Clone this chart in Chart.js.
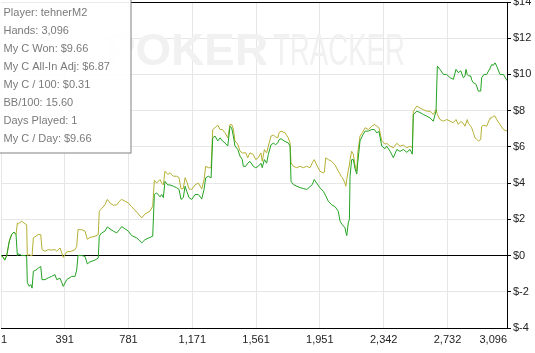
<!DOCTYPE html>
<html>
<head>
<meta charset="utf-8">
<script src="https://cdn.jsdelivr.net/npm/chart.js@4.4.1/dist/chart.umd.min.js"></script>
<style>
  html, body { margin: 0; padding: 0; background: #fff; }
  #wrap { position: relative; width: 535px; height: 353px; }
</style>
</head>
<body>
<div id="wrap"><canvas id="chartWinnings"></canvas></div>
<script>
// hand numbers (x positions of the samples)
const hands = [
    1, 11, 24, 36, 52, 66, 80, 93, 101, 107, 128, 148, 158, 162, 174, 183, 191, 199, 215, 229,
    244, 252, 270, 290, 311, 331, 342, 362, 382, 403, 433, 454, 464, 472, 495, 515, 529, 545, 576, 596,
    602, 617, 637, 651, 668, 688, 709, 725, 739, 760, 780, 800, 831, 862, 882, 912, 929, 939, 953, 974,
    984, 994, 1004, 1021, 1035, 1055, 1076, 1090, 1102, 1116, 1127, 1137, 1151, 1168, 1188, 1208, 1229, 1243, 1253, 1269,
    1286, 1296, 1310, 1327, 1341, 1355, 1371, 1388, 1402, 1412, 1422, 1432, 1449, 1463, 1477, 1483, 1498, 1510, 1524, 1544,
    1559, 1575, 1591, 1599, 1612, 1626, 1636, 1653, 1667, 1681, 1694, 1702, 1714, 1738, 1758, 1769, 1775, 1789, 1810, 1830,
    1850, 1871, 1891, 1905, 1917, 1932, 1952, 1972, 1979, 1987, 2003, 2024, 2044, 2064, 2075, 2081, 2089, 2105, 2110, 2116,
    2125, 2132, 2136, 2146, 2156, 2166, 2177, 2183, 2197, 2211, 2228, 2248, 2269, 2285, 2299, 2313, 2330, 2350, 2360, 2381,
    2401, 2422, 2442, 2462, 2483, 2503, 2517, 2523, 2544, 2564, 2584, 2605, 2625, 2645, 2662, 2670, 2686, 2707, 2727, 2748,
    2768, 2784, 2798, 2813, 2829, 2839, 2845, 2853, 2860, 2874, 2880, 2890, 2900, 2907, 2921, 2935, 2941, 2955, 2972, 2988,
    2992, 3003, 3012, 3023, 3033, 3053, 3074, 3096
];

// My C Won ($)
const wonValues = [
    0, -0.05, -0.25, 0, 0.8, 1.16, 1.3, 1.16, 0, 0.1, 0, 0, -0.05, -1.5, -1.7, -1.6, -1.8, -0.87, -0.8, -0.7,
    -0.6, -1.33, -1.33, -1.23, -1.15, -1.05, -1.33, -1.25, -1.7, -1.33, -1.15, -1.15, -0.8, 0, 0, -0.05, -0.46, -0.35, -0.25, -0.13,
    1.07, 1.25, 1.35, 1.58, 1.47, 1.35, 1.25, 1.43, 1.6, 1.47, 1.35, 1.1, 0.98, 0.7, 0.88, 1.0, 1.07, 3.37, 3.46, 3.24,
    3.37, 3.2, 4.1, 3.9, 3.9, 3.83, 3.74, 3.65, 3.1, 3.2, 3.83, 3.55, 3.2, 3.1, 3.37, 3.37, 3.13, 3.65, 4.29, 4.38,
    4.29, 6.5, 6.6, 6.33, 6.5, 6.33, 6.22, 6.05, 7.14, 7.05, 6.6, 6.05, 5.86, 5.49, 5.3, 4.93, 4.93, 5.1, 5.2, 4.93,
    4.85, 4.93, 5.1, 4.85, 5.3, 5.1, 5.58, 6.13, 6.2, 6.13, 6.22, 6.4, 6.45, 6.3, 6.22, 6.04, 4.1, 3.92, 3.83, 3.75,
    3.7, 3.65, 3.8, 3.92, 4.2, 4.0, 3.74, 3.55, 3.45, 3.3, 3.0, 2.8, 2.7, 2.45, 1.9, 1.8, 1.7, 1.53, 1.3, 1.1,
    1.8, 2.0, 4.38, 5.3, 5.3, 4.8, 4.5, 5.12, 6.33, 6.6, 6.87, 6.87, 6.96, 6.96, 6.78, 6.85, 6.04, 5.9, 6.04, 5.76,
    5.4, 5.86, 5.75, 5.86, 5.7, 5.86, 5.6, 7.79, 7.97, 7.9, 7.79, 7.7, 7.6, 7.42, 7.97, 10.46, 10.28, 10.0, 10.0, 9.82,
    9.73, 10.28, 10.1, 10.2, 9.82, 9.9, 10.28, 10.0, 9.92, 9.92, 9.7, 9.54, 9.5, 9.45, 9.08, 9.08, 9.82, 10.0, 10.0, 10.28,
    10.35, 10.55, 10.5, 10.64, 10.46, 10.0, 10.0, 9.66
];

// My C All-In Adj ($)
const allInValues = [
    0, -0.05, -0.25, 0, 0.8, 1.16, 1.3, 1.16, 1.8, 1.75, 1.9, 1.75, 1.7, 0, 0.05, 0, 0, 0.98, 1.07, 1.16,
    1.16, 0.33, 0.24, 0.33, 0.3, 0.33, 0.24, 0.42, -0.1, 0.2, 0.24, 0.33, 0.5, 1.43, 1.43, 1.35, 0.9, 1.0, 1.07, 1.16,
    2.45, 2.6, 2.8, 3.1, 2.9, 2.78, 2.8, 3.0, 3.1, 3.0, 2.9, 2.7, 2.4, 2.08, 2.3, 2.45, 2.72, 4.16, 4.0, 4.2,
    4.0, 3.9, 4.66, 4.48, 4.57, 4.38, 4.38, 4.3, 3.68, 3.7, 4.3, 4.1, 3.68, 3.65, 3.9, 4.0, 3.68, 4.2, 4.93, 4.85,
    4.85, 6.96, 7.06, 7.2, 6.96, 6.96, 6.78, 6.5, 7.24, 7.24, 7.0, 6.33, 6.15, 5.76, 5.67, 5.67, 5.67, 5.4, 5.67, 5.58,
    5.3, 5.4, 5.67, 5.2, 5.85, 5.67, 6.04, 6.6, 6.65, 6.55, 6.5, 6.78, 6.87, 6.78, 6.5, 6.22, 5.12, 4.93, 4.85, 4.93,
    4.85, 4.93, 4.85, 5.12, 5.3, 5.0, 4.66, 4.56, 4.6, 5.4, 5.3, 5.2, 5.0, 4.66, 4.5, 4.38, 4.3, 4.0, 3.83, 4.2,
    4.7, 5.0, 5.3, 5.76, 5.6, 5.0, 4.66, 5.67, 6.6, 6.78, 7.06, 6.96, 7.14, 7.24, 7.15, 7.06, 6.33, 6.15, 6.2, 6.04,
    5.95, 6.2, 6.04, 6.1, 5.95, 6.04, 5.95, 7.97, 8.25, 8.15, 8.06, 7.97, 7.97, 7.79, 8.06, 7.79, 7.51, 7.42, 7.51, 7.42,
    7.33, 7.51, 7.24, 7.4, 7.3, 7.14, 7.3, 7.51, 7.3, 7.14, 7.05, 6.8, 6.5, 6.45, 6.33, 6.4, 7.14, 7.2, 7.14, 7.5,
    7.6, 7.6, 7.7, 7.7, 7.51, 7.24, 6.96, 6.87
];

const xTickValues = [1, 391, 781, 1171, 1561, 1951, 2342, 2732, 3096];
const yMin = -4, yMax = 14, yStep = 2;

const infoLines = [
    'Player: tehnerM2',
    'Hands: 3,096',
    'My C Won: $9.66',
    'My C All-In Adj: $6.87',
    'My C / 100: $0.31',
    'BB/100: 15.60',
    'Days Played: 1',
    'My C / Day: $9.66'
];

const FONT = '"Liberation Sans", Arial, sans-serif';

// faint brand mark behind the lines
const watermark = {
    id: 'watermark',
    beforeDatasetsDraw(chart) {
        const ctx = chart.ctx;
        ctx.save();
        ctx.fillStyle = '#f1f1f1';
        ctx.textBaseline = 'alphabetic';
        ctx.font = 'bold 44px ' + FONT;
        const w1 = ctx.measureText('POKER').width;
        ctx.save();
        ctx.translate(105, 65);
        ctx.scale(163 / w1, 1);
        ctx.fillText('POKER', 0, 0);
        ctx.restore();
        ctx.font = '44px ' + FONT;
        const w2 = ctx.measureText('TRACKER').width;
        ctx.translate(273, 65);
        ctx.scale(132 / w2, 1);
        ctx.fillText('TRACKER', 0, 0);
        ctx.restore();
    }
};

// stats box in the upper left corner
const infoBox = {
    id: 'infoBox',
    afterDraw(chart) {
        const ctx = chart.ctx;
        ctx.save();
        ctx.fillStyle = 'rgba(255,255,255,0.92)';
        ctx.fillRect(0, 0, 131, 153);
        ctx.strokeStyle = '#808080';
        ctx.lineWidth = 1;
        ctx.strokeRect(-0.5, -0.5, 131.5, 153.5);
        ctx.fillStyle = '#7a7a7a';
        ctx.font = '11px ' + FONT;
        ctx.textBaseline = 'middle';
        infoLines.forEach((t, i) => ctx.fillText(t, 3.5, 12.5 + i * 18));
        ctx.restore();
    }
};

const ctxEl = document.getElementById('chartWinnings');
new Chart(ctxEl, {
    type: 'line',
    data: {
        datasets: [
            { label: 'My C Won', data: hands.map((h, i) => ({ x: h, y: wonValues[i] })), borderColor: '#22a322', borderWidth: 1, pointRadius: 0, tension: 0 },
            { label: 'My C All-In Adj', data: hands.map((h, i) => ({ x: h, y: allInValues[i] })), borderColor: '#b4b033', borderWidth: 1, pointRadius: 0, tension: 0 }
        ]
    },
    options: {
        responsive: true, maintainAspectRatio: false, animation: false,
        layout: { padding: { top: 2, left: 1, right: 0, bottom: 0 } },
        plugins: { legend: { display: false }, tooltip: { enabled: false } },
        scales: {
            x: {
                type: 'linear', min: 1, max: 3096,
                afterBuildTicks: s => { s.ticks = xTickValues.map(v => ({ value: v })); },
                afterFit: s => { s.height = 25; s.paddingLeft = 0; s.paddingRight = 0; },
                ticks: { align: 'inner', padding: 5, color: '#222', font: { family: FONT, size: 11 }, callback: v => v.toLocaleString('en-US') },
                grid: { color: '#e6e6e6', drawTicks: false },
                border: { color: '#000' }
            },
            y: {
                position: 'right', min: yMin, max: yMax,
                afterFit: s => { s.width = 28; s.paddingTop = 0; s.paddingBottom = 0; },
                ticks: { stepSize: yStep, padding: 2, color: '#222', font: { family: FONT, size: 11 }, callback: v => '$' + v },
                grid: { color: c => (c.tick && (c.tick.value === 0 || c.tick.value === yMax)) ? '#000' : '#e6e6e6', tickColor: '#000', tickLength: 4 },
                border: { color: '#000' }
            }
        }
    },
    plugins: [watermark, infoBox]
});
</script>
</body>
</html>
